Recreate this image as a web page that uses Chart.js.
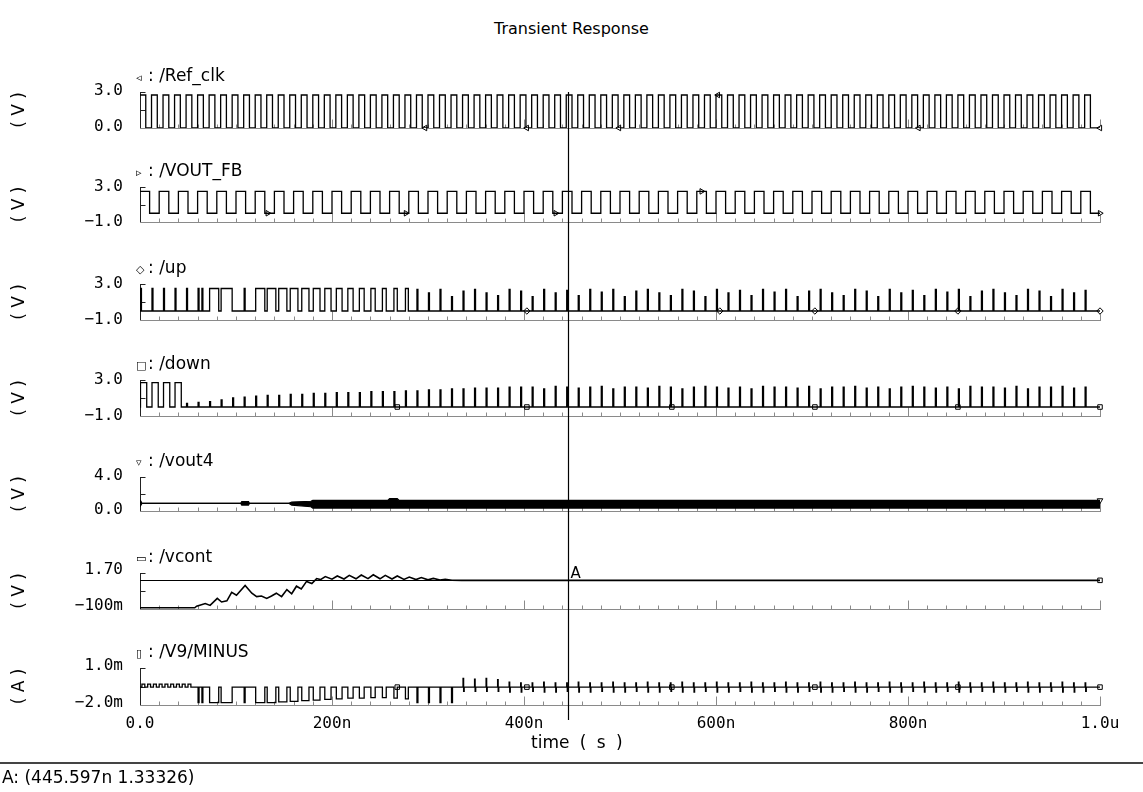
<!DOCTYPE html>
<html>
<head>
<meta charset="utf-8">
<title>Transient Response</title>
<script src="https://cdn.jsdelivr.net/npm/chart.js@4.4.1/dist/chart.umd.min.js"></script>
<style>
  html, body { margin: 0; padding: 0; background: #fff; }
  #page { position: relative; width: 1143px; height: 792px; overflow: hidden; background: #fff; }
  #page canvas { position: absolute; left: 0; }
  .txt { position: absolute; white-space: nowrap; font-family: "DejaVu Sans", sans-serif; font-size: 17px; line-height: 17px; color: #000; z-index: 2; }
  .sym { font-size: 11px; display: inline-block; width: 12px; }
  #sep { position: absolute; left: 0; width: 1143px; top: 762px; height: 0; border-top: 2px solid #444; }
</style>
</head>
<body>
<div id="page"></div>
<script>
// ---------------- data (time in ns, voltages in V, current in mA) ----------------
const timeTicks = [0, 200, 400, 600, 800, 1000];
const timeTickLabels = ['0.0', '200n', '400n', '600n', '800n', '1.0u'];

const signalNames = ['/Ref_clk', '/VOUT_FB', '/up', '/down', '/vout4', '/vcont', '/V9/MINUS'];
const signalSymbols = ['◃', '▹', '◇', '□', '▿', '▭', '▯'];
const yUnits = ['( V )', '( V )', '( V )', '( V )', '( V )', '( V )', '( A )'];
const yTickValues = [[0, 3], [-1, 3], [-1, 3], [-1, 3], [0, 4], [-0.1, 1.7], [-2, 1]];
const yTickLabels = [
  ['0.0', '3.0'], ['\u22121.0', '3.0'], ['\u22121.0', '3.0'], ['\u22121.0', '3.0'],
  ['0.0', '4.0'], ['\u2212100m', '1.70'], ['\u22122.0m', '1.0m']
];

// cursor A
const cursorT = 445.597;
const cursorV = 1.33326;

// times at which each trace carries its symbol
const markerTimes = [
  [297, 403, 499, 602, 811, 1000],
  [133, 277, 433, 585, 1000],
  [403, 604, 703, 852, 1000],
  [268, 403, 554, 703, 852, 1000],
  [1000],
  [1000],
  [268, 403, 554, 703, 852, 1000]
];

// reference clock: rising edges, high time, levels
const refRise = [0, 12, 24, 36, 48, 60, 72, 84, 96, 108, 120, 132, 144, 156, 168, 180, 192, 204, 216, 228,
  240, 252, 264, 276, 288, 300, 312, 324, 336, 348, 360, 372, 384, 396, 408, 420, 432, 444, 456, 468,
  480, 492, 504, 516, 528, 540, 552, 564, 576, 588, 600, 612, 624, 636, 648, 660, 672, 684, 696, 708,
  720, 732, 744, 756, 768, 780, 792, 804, 816, 828, 840, 852, 864, 876, 888, 900, 912, 924, 936, 948,
  960, 972, 984];
const refHighTime = 6;
const refLevels = [0, 2.75];

// divided feedback clock
const fbRise = [0, 20, 40, 60, 80, 100, 120, 140, 160, 180, 200, 220, 240, 260, 280, 300, 320, 340,
  360, 380, 400, 420, 440, 460, 480, 500, 520, 540, 560, 580, 600, 620, 640, 660, 680, 700, 720,
  740, 760, 780, 800, 820, 840, 860, 880, 900, 920, 940, 960, 980];
const fbHighTime = 10;
const fbLevels = [0, 2.5];

const SPIKE_W = 1;   // width of a phase-detector spike, ns

// PFD up: acquisition pulses [start, end, level], then locked spikes
const upPulses = [
  [0.5, 1.5, 2.5], [12.5, 13.5, 2.5], [24.5, 25.5, 2.5], [36.5, 37.5, 2.5], [48.5, 49.5, 2.5],
  [60.5, 61.5, 2.5], [64.5, 65.5, 2.5], [72.5, 82, 2.5], [84.5, 96, 2.5], [108.5, 109.5, 2.5],
  [120.5, 130, 2.5], [132.5, 141.5, 2.5], [144.5, 153, 2.5], [156.5, 164.5, 2.5], [168.5, 176, 2.5],
  [180.5, 187.5, 2.5], [192.5, 199, 2.5], [204.5, 210.5, 2.5], [216.5, 222, 2.5], [228.5, 233.5, 2.5],
  [240.5, 245, 2.5], [252.5, 256.5, 2.5], [264.5, 268, 2.5], [276.5, 279.5, 2.5]
];
const upSpikeTimes = [288.5, 300.5, 312.5, 324.5, 336.5, 348.5, 360.5, 372.5, 384.5, 396.5, 408.5, 420.5,
  432.5, 444.5, 456.5, 468.5, 480.5, 492.5, 504.5, 516.5, 528.5, 540.5, 552.5, 564.5, 576.5, 588.5,
  600.5, 612.5, 624.5, 636.5, 648.5, 660.5, 672.5, 684.5, 696.5, 708.5, 720.5, 732.5, 744.5, 756.5,
  768.5, 780.5, 792.5, 804.5, 816.5, 828.5, 840.5, 852.5, 864.5, 876.5, 888.5, 900.5, 912.5, 924.5,
  936.5, 948.5, 960.5, 972.5, 984.5];
const upSpikeLevels = [2.4, 2.0, 2.4, 1.6, 2.2, 2.4, 2.0, 1.7, 2.4, 2.2, 1.6, 2.4, 2.0, 2.3, 1.7, 2.4,
  2.1, 2.4, 1.6, 2.2, 2.4, 2.0, 1.7, 2.4, 2.2, 1.6, 2.4, 2.0, 2.3, 1.7, 2.4, 2.1, 2.4, 1.6, 2.2, 2.4,
  2.0, 1.7, 2.4, 2.2, 1.6, 2.4, 2.0, 2.3, 1.7, 2.4, 2.1, 2.4, 1.6, 2.2, 2.4, 2.0, 1.7, 2.4, 2.2, 1.6,
  2.4, 2.0, 2.3];

// PFD down: acquisition pulses, then spikes every reference period
const downPulses = [[0.5, 7, 2.7], [12.5, 19, 2.7], [24.5, 31, 2.7], [36.5, 43, 2.7]];
const downSpikeTimes = [48.5, 60.5, 72.5, 84.5, 96.5, 108.5, 120.5, 132.5, 144.5, 156.5, 168.5, 180.5,
  192.5, 204.5, 216.5, 228.5, 240.5, 252.5, 264.5, 276.5, 288.5, 300.5, 312.5, 324.5, 336.5, 348.5,
  360.5, 372.5, 384.5, 396.5, 408.5, 420.5, 432.5, 444.5, 456.5, 468.5, 480.5, 492.5, 504.5, 516.5,
  528.5, 540.5, 552.5, 564.5, 576.5, 588.5, 600.5, 612.5, 624.5, 636.5, 648.5, 660.5, 672.5, 684.5,
  696.5, 708.5, 720.5, 732.5, 744.5, 756.5, 768.5, 780.5, 792.5, 804.5, 816.5, 828.5, 840.5, 852.5,
  864.5, 876.5, 888.5, 900.5, 912.5, 924.5, 936.5, 948.5, 960.5, 972.5, 984.5];
const downSpikeLevels = [0.4, 0.5, 0.6, 0.8, 1.0, 1.1, 1.2, 1.3, 1.3, 1.4, 1.4, 1.5, 1.5, 1.6, 1.6, 1.6,
  1.7, 1.7, 1.7, 1.8, 1.8, 1.9, 1.9, 2.0, 2.0, 2.1, 2.1, 2.1, 2.2, 2.2, 2.2, 2.0, 2.3, 2.2, 2.1, 2.2,
  2.3, 2.0, 2.2, 2.2, 2.1, 2.3, 2.2, 2.0, 2.2, 2.3, 2.2, 2.1, 2.2, 2.0, 2.3, 2.2, 2.2, 2.1, 2.3, 2.0,
  2.2, 2.2, 2.3, 2.1, 2.2, 2.0, 2.2, 2.3, 2.2, 2.1, 2.2, 2.0, 2.3, 2.2, 2.2, 2.1, 2.3, 2.0, 2.2, 2.2,
  2.3, 2.1, 2.2];

// VCO output envelope
const vout4Time = [0, 1, 2, 105, 106, 113, 114, 155, 158, 178, 180, 258, 260, 268, 270, 1000];
const vout4Upper = [1.3, 1.3, 0.9, 0.9, 1.1, 1.1, 0.9, 0.9, 1.05, 1.15, 1.25, 1.25, 1.45, 1.45, 1.25, 1.25];
const vout4Lower = [0.5, 0.5, 0.9, 0.9, 0.7, 0.7, 0.9, 0.9, 0.7, 0.5, 0.35, 0.35, 0.35, 0.35, 0.35, 0.35];

// loop-filter control voltage
const vcontTime = [0, 57, 59, 68, 73, 80.5, 85, 90.5, 95.5, 100.5, 109.5, 116.5, 121.5, 126.5, 132, 137,
  142, 147.5, 153, 158, 163, 168, 173.5, 179, 184, 188, 193, 200, 205.5, 212.5, 218, 225, 230.5, 237.5,
  243, 250, 255.5, 262.5, 268, 275, 280.5, 287.5, 293, 300, 305.5, 312.5, 318, 325, 335, 1000];
const vcontValue = [-0.04, -0.04, 0.04, 0.17, 0.08, 0.43, 0.25, 0.31, 0.73, 0.59, 1.08, 0.69, 0.52, 0.55, 0.43, 0.55,
  0.69, 0.52, 0.87, 0.66, 1.04, 0.90, 1.28, 1.17, 1.42, 1.37, 1.52, 1.39, 1.55, 1.40, 1.58, 1.41, 1.60, 1.42,
  1.61, 1.41, 1.58, 1.40, 1.55, 1.38, 1.50, 1.37, 1.47, 1.36, 1.43, 1.35, 1.39, 1.34, 1.333, 1.333];

// charge-pump supply current: quiescent level, pulses [start, end, level], locked spikes
const v9Base = -0.55;
const v9Pulses = [
  [2, 5, -0.3], [8, 11, -0.3], [14, 17, -0.3], [20, 23, -0.3], [26, 29, -0.3],
  [32, 35, -0.3], [38, 41, -0.3], [44, 47, -0.3], [50, 53, -0.3],
  [60.5, 61.5, -1.8], [64.5, 65.5, -1.8], [72.5, 82, -1.8], [84.5, 96, -1.8], [108.5, 109.5, -1.8],
  [120.5, 130, -1.8], [132.5, 141.5, -1.8], [144.5, 153, -1.75], [156.5, 164.5, -1.7], [168.5, 176, -1.65],
  [180.5, 187.5, -1.6], [192.5, 199, -1.55], [204.5, 210.5, -1.5], [216.5, 222, -1.45], [228.5, 233.5, -1.45],
  [240.5, 245, -1.4], [252.5, 256.5, -1.4], [264.5, 268, -1.45], [276.5, 279.5, -1.5],
  [288.5, 289.5, -1.8], [300.5, 301.5, -1.8], [312.5, 313.5, -1.8], [324.5, 325.5, -1.8]
];
const v9SpikeTimes = [336.5, 348.5, 360.5, 372.5, 384.5, 396.5, 408.5, 420.5, 432.5, 444.5, 456.5, 468.5,
  480.5, 492.5, 504.5, 516.5, 528.5, 540.5, 552.5, 564.5, 576.5, 588.5, 600.5, 612.5, 624.5, 636.5,
  648.5, 660.5, 672.5, 684.5, 696.5, 708.5, 720.5, 732.5, 744.5, 756.5, 768.5, 780.5, 792.5, 804.5,
  816.5, 828.5, 840.5, 852.5, 864.5, 876.5, 888.5, 900.5, 912.5, 924.5, 936.5, 948.5, 960.5, 972.5, 984.5];
const v9SpikeUp = [0.15, 0.1, 0.15, 0.05, -0.15, -0.2, -0.2, -0.15, -0.2, -0.2, -0.15, -0.2, -0.2, -0.15,
  -0.2, -0.2, -0.15, -0.2, -0.2, -0.15, -0.2, -0.2, -0.15, -0.2, -0.2, -0.15, -0.2, -0.2, -0.15, -0.2,
  -0.2, -0.15, -0.2, -0.2, -0.15, -0.2, -0.2, -0.15, -0.2, -0.2, -0.15, -0.2, -0.2, -0.15, -0.2, -0.2,
  -0.15, -0.2, -0.2, -0.15, -0.2, -0.2, -0.15, -0.2, -0.2];
const v9SpikeDown = [-0.9, -0.9, -0.9, -0.9, -0.95, -0.95, -0.9, -0.95, -0.95, -0.9, -0.95, -0.95, -0.9,
  -0.95, -0.95, -0.9, -0.95, -0.95, -0.9, -0.95, -0.95, -0.9, -0.95, -0.95, -0.9, -0.95, -0.95, -0.9,
  -0.95, -0.95, -0.9, -0.95, -0.95, -0.9, -0.95, -0.95, -0.9, -0.95, -0.95, -0.9, -0.95, -0.95, -0.9,
  -0.95, -0.95, -0.9, -0.95, -0.95, -0.9, -0.95, -0.95, -0.9, -0.95, -0.95, -0.9];

// ---------------- layout ----------------
const PAGE_W = 1143, PAGE_H = 792;
const PLOT_LEFT = 140, PLOT_RIGHT = 1100;
const stripBox = [[92, 128], [187, 222], [284, 320], [380, 416], [477, 511], [573, 609], [668, 705]];
const labelShift = [-1, 0, 0, 0, -1, -3, -2];
const X_AXIS_H = 40;
const MINOR_STEP = 20, MAJOR_STEP = 200;
const INK = '#000';
const AXIS_GREY = '#8a8a8a';
const monoFont = '"DejaVu Sans Mono", monospace';
const sansFont = '"DejaVu Sans", sans-serif';
const markerStyles = [
  {pointStyle: 'triangle', rotation: 270}, {pointStyle: 'triangle', rotation: 90},
  {pointStyle: 'rectRot', rotation: 0}, {pointStyle: 'rect', rotation: 0},
  {pointStyle: 'triangle', rotation: 180}, {pointStyle: 'rect', rotation: 0},
  {pointStyle: 'rect', rotation: 0}
];

// ---------------- point builders ----------------
const T_END = timeTicks[timeTicks.length - 1];

function clockPoints(rises, highTime, levels) {
  const pts = [];
  rises.forEach(r => { pts.push({x: r, y: levels[1]}); pts.push({x: r + highTime, y: levels[0]}); });
  pts.push({x: T_END, y: levels[0]});
  return pts;
}
function spikesAsPulses(times, levels) {
  return times.map((t, i) => [t, t + SPIKE_W, levels[i]]);
}
function pulsePoints(pulses, base) {
  const pts = [{x: 0, y: base}];
  pulses.forEach(p => { pts.push({x: p[0], y: p[2]}); pts.push({x: p[1], y: base}); });
  pts.push({x: T_END, y: base});
  return pts;
}
function zipPoints(xs, ys) { return xs.map((x, i) => ({x, y: ys[i]})); }

// a locked charge-pump spike swings up, then down, then back to the quiescent level
const v9Points = pulsePoints(v9Pulses, v9Base).slice(0, -1);
v9SpikeTimes.forEach((t, i) => {
  v9Points.push({x: t, y: v9SpikeUp[i]});
  v9Points.push({x: t + SPIKE_W * 0.6, y: v9SpikeDown[i]});
  v9Points.push({x: t + SPIKE_W * 1.2, y: v9Base});
});
v9Points.push({x: T_END, y: v9Base});

const tracePoints = [
  clockPoints(refRise, refHighTime, refLevels),
  clockPoints(fbRise, fbHighTime, fbLevels),
  pulsePoints(upPulses.concat(spikesAsPulses(upSpikeTimes, upSpikeLevels)), 0),
  pulsePoints(downPulses.concat(spikesAsPulses(downSpikeTimes, downSpikeLevels)), 0),
  zipPoints(vout4Time, vout4Upper),
  zipPoints(vcontTime, vcontValue),
  v9Points
];

// level a trace holds at time t (last point at or before t)
function levelAt(points, t) {
  let v = points[0].y;
  for (const p of points) { if (p.x <= t) v = p.y; else break; }
  return v;
}

// each point holds its level from its own time until the next point's time
function stepSet(points) {
  return {data: points, stepped: 'before', borderColor: INK, borderWidth: 1.3, pointRadius: 0, fill: false};
}
function lineSet(points, extra) {
  return Object.assign({data: points, borderColor: INK, borderWidth: 1.6, pointRadius: 0, fill: false, tension: 0}, extra || {});
}
function markerSet(i) {
  const pts = markerTimes[i].map(t => ({x: t, y: levelAt(tracePoints[i], t)}));
  return Object.assign({data: pts, showLine: false, pointRadius: 3.2, borderWidth: 1,
    borderColor: INK, backgroundColor: '#fff', clip: false}, markerStyles[i]);
}

const stripSets = [
  [stepSet(tracePoints[0])],
  [stepSet(tracePoints[1])],
  [stepSet(tracePoints[2])],
  [stepSet(tracePoints[3])],
  [lineSet(tracePoints[4], {borderWidth: 1.2}),
   lineSet(zipPoints(vout4Time, vout4Lower), {borderWidth: 1.2, fill: '-1', backgroundColor: INK})],
  [lineSet(tracePoints[5])],
  [stepSet(tracePoints[6])]
];
stripSets.forEach((sets, i) => sets.push(markerSet(i)));

// ---------------- plugins ----------------
function hline(ctx, x0, x1, y) { ctx.beginPath(); ctx.moveTo(x0, y); ctx.lineTo(x1, y); ctx.stroke(); }
function vline(ctx, x, y0, y1) { ctx.beginPath(); ctx.moveTo(x, y0); ctx.lineTo(x, y1); ctx.stroke(); }

const stripFrame = {
  id: 'stripFrame',
  beforeDatasetsDraw(chart) {
    const {ctx, chartArea: a, scales: {x, y}} = chart;
    ctx.save();
    ctx.lineWidth = 1;
    ctx.strokeStyle = AXIS_GREY;
    const yb = Math.round(a.bottom) + 0.5;
    hline(ctx, a.left, a.right + 1, yb);
    for (let t = x.min; t <= x.max + 1e-6; t += MINOR_STEP) {
      const px = Math.round(x.getPixelForValue(t)) + 0.5;
      const len = (Math.abs(t % MAJOR_STEP) < 1e-6) ? 9 : 4;
      vline(ctx, px, yb, yb - len);
    }
    ctx.strokeStyle = '#222';
    const xl = Math.round(a.left) + 0.5;
    vline(ctx, xl, a.top, a.bottom);
    const mid = (y.min + y.max) / 2;
    [y.max, mid].forEach(v => {
      const py = Math.round(y.getPixelForValue(v)) + 0.5;
      hline(ctx, xl, xl + 5, py);
    });
    ctx.restore();
  },
  afterDatasetsDraw(chart, args, opts) {
    const {ctx, chartArea: a, scales: {x, y}} = chart;
    ctx.save();
    ctx.strokeStyle = INK;
    ctx.lineWidth = 1.2;
    const px = Math.round(x.getPixelForValue(cursorT)) + 0.5;
    const y0 = opts.cursorFromPlot ? a.top : 0;
    const y1 = opts.cursorToPlot ? a.bottom + opts.cursorToPlot : chart.height;
    vline(ctx, px, y0, y1);
    if (opts.crosshair) {
      const py = Math.round(y.getPixelForValue(cursorV)) + 0.5;
      ctx.lineWidth = 1;
      hline(ctx, a.left, a.right, py);
      ctx.fillStyle = INK;
      ctx.font = '15px ' + sansFont;
      ctx.textBaseline = 'bottom';
      ctx.fillText('A', px + 2, py + 1);
    }
    ctx.restore();
  }
};

// ---------------- build strips ----------------
const page = document.getElementById('page');

function addText(text, left, top, extraStyle) {
  const d = document.createElement('div');
  d.className = 'txt';
  d.textContent = text;
  d.style.left = left + 'px';
  d.style.top = top + 'px';
  if (extraStyle) Object.assign(d.style, extraStyle);
  page.appendChild(d);
  return d;
}

stripBox.forEach((box, i) => {
  const last = i === stripBox.length - 1;
  const cTop = i === 0 ? 40 : Math.floor((stripBox[i - 1][1] + box[0]) / 2);
  const cBot = last ? PAGE_H : Math.floor((box[1] + stripBox[i + 1][0]) / 2);
  const cv = document.createElement('canvas');
  cv.width = PAGE_W; cv.height = cBot - cTop;
  cv.style.top = cTop + 'px';
  cv.style.width = PAGE_W + 'px'; cv.style.height = (cBot - cTop) + 'px';
  page.appendChild(cv);

  const ticksY = yTickValues[i];
  const labelsY = yTickLabels[i];
  const pad = {left: 0, right: PAGE_W - PLOT_RIGHT, top: box[0] - cTop,
    bottom: cBot - box[1] - (last ? X_AXIS_H : 0)};

  const xScale = {
    type: 'linear', min: timeTicks[0], max: T_END, display: last,
    grid: {display: false, drawTicks: false}, border: {display: false},
    afterBuildTicks: s => { s.ticks = timeTicks.map(v => ({value: v})); },
    ticks: {autoSkip: false, maxRotation: 0, padding: 9, color: INK,
      font: {family: monoFont, size: 16},
      callback: (v, idx) => timeTickLabels[idx]}
  };
  if (last) xScale.afterFit = s => { s.height = X_AXIS_H; };

  const chart = new Chart(cv.getContext('2d'), {
    type: 'line',
    data: {datasets: stripSets[i]},
    options: {
      responsive: false,
      maintainAspectRatio: false,
      animation: false,
      events: [],
      parsing: false,
      normalized: true,
      layout: {padding: pad},
      plugins: {
        legend: {display: false}, tooltip: {enabled: false}, title: {display: false},
        stripFrame: {cursorFromPlot: i === 0, cursorToPlot: last ? 15 : 0, crosshair: i === 5}
      },
      scales: {
        x: xScale,
        y: {
          type: 'linear', min: ticksY[0], max: ticksY[1], position: 'left',
          grid: {display: false, drawTicks: false}, border: {display: false},
          afterBuildTicks: s => { s.ticks = ticksY.map(v => ({value: v})); },
          afterFit: s => { s.width = PLOT_LEFT; },
          ticks: {autoSkip: false, padding: 17, labelOffset: labelShift[i], color: INK,
            font: {family: monoFont, size: 16},
            callback: (v, idx) => labelsY[idx]},
          title: {display: true, text: yUnits[i], color: INK, font: {family: sansFont, size: 17},
            padding: {top: 9, bottom: 0}}
        }
      }
    },
    plugins: [stripFrame]
  });

  // keep the plot frame of every strip on the same page rows
  for (let k = 0; k < 2; k++) {
    const a = chart.chartArea;
    pad.top += box[0] - (cTop + a.top);
    pad.bottom -= box[1] - (cTop + a.bottom);
    chart.options.layout.padding = Object.assign({}, pad);
    chart.update();
  }

  // trace name above each strip
  const nm = addText('', 136, box[0] - 25);
  const sym = document.createElement('span');
  sym.className = 'sym'; sym.textContent = signalSymbols[i];
  nm.appendChild(sym);
  nm.appendChild(document.createTextNode(': ' + signalNames[i]));
});

// title, axis title, cursor readout
addText('Transient Response', 0, 20, {width: PAGE_W + 'px', textAlign: 'center', fontSize: '16px'});
addText('time ( s )', 531, 734, {wordSpacing: '5px'});
const sep = document.createElement('div'); sep.id = 'sep'; page.appendChild(sep);
addText('A: (' + cursorT + 'n ' + cursorV + ')', 2, 769, {fontSize: '17px'});
</script>
</body>
</html>
